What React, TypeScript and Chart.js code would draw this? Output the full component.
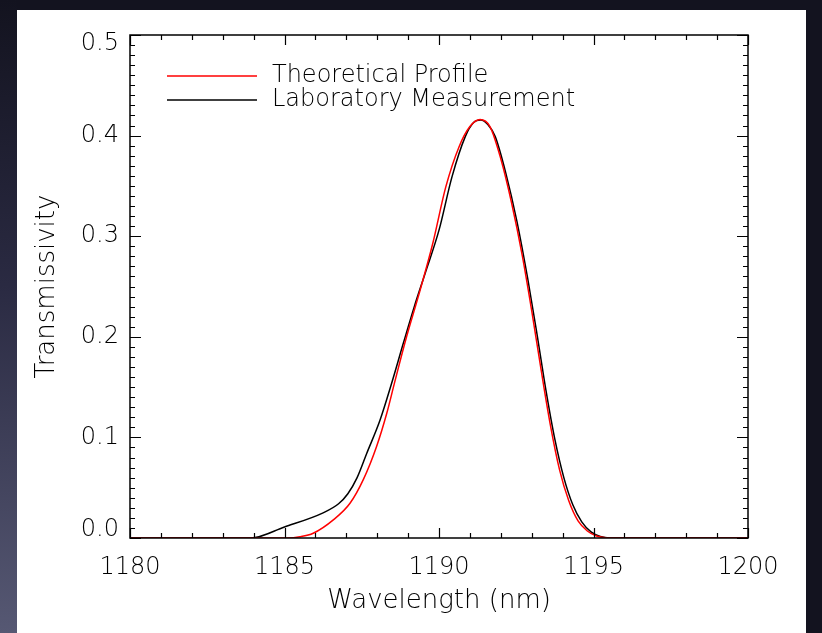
import React, { useEffect, useRef } from 'react';
import { Chart, registerables } from 'chart.js';

Chart.register(...registerables);

const theoWavelength = [1180, 1185.1, 1185.5, 1185.93, 1186.58, 1187.12, 1187.55, 1187.98, 1188.31, 1188.55, 1188.95, 1189.39, 1189.8, 1190.22, 1190.65, 1191.0, 1191.33, 1191.65, 1192.0, 1192.35, 1192.7, 1193.0, 1193.3, 1193.6, 1193.9, 1194.2, 1194.5, 1194.8, 1195.1, 1195.4, 1195.8, 1200];
const theoValues = [0, 0, 0.0012, 0.0047, 0.018, 0.0345, 0.058, 0.091, 0.124, 0.153, 0.2, 0.2465, 0.293, 0.349, 0.389, 0.409, 0.416, 0.409, 0.377, 0.333, 0.28, 0.226, 0.168, 0.113, 0.068, 0.037, 0.017, 0.007, 0.002, 0.0003, 0, 0];

const labWavelength = [1180, 1183.9, 1185, 1186.25, 1186.75, 1187.05, 1187.35, 1187.66, 1188.09, 1188.45, 1188.85, 1189.2, 1189.55, 1190.0, 1190.42, 1190.85, 1191.12, 1191.35, 1191.58, 1191.82, 1192.16, 1192.52, 1192.87, 1193.17, 1193.46, 1193.75, 1194.04, 1194.33, 1194.62, 1194.92, 1195.22, 1195.52, 1200];
const labValues = [0, 0, 0.011, 0.025, 0.034, 0.044, 0.06, 0.084, 0.117, 0.152, 0.194, 0.23, 0.263, 0.306, 0.359, 0.399, 0.413, 0.4155, 0.411, 0.399, 0.363, 0.315, 0.258, 0.203, 0.147, 0.098, 0.06, 0.033, 0.016, 0.006, 0.0015, 0, 0];

const seriesLabels = ['Theoretical Profile', 'Laboratory Measurement'];
const seriesColors = ['#ff0000', '#000000'];

const xMin = 1180;
const xMax = 1200;
const xMajorStep = 5;
const yMin = 0;
const yMax = 0.5;
const yMajorStep = 0.1;

const xTitle = 'Wavelength (nm)';
const yTitle = 'Transmissivity';

const FONT = '"DejaVu Sans", sans-serif';
const FONT_SIZE = 24;
const TITLE_SIZE = 26;
const FONT_WEIGHT = 200;

const framePlugin = {
  id: 'idlFrame',
  afterDraw(chart: any) {
    const ctx = chart.ctx;
    const { left, right, top, bottom } = chart.chartArea;
    const xs = chart.scales.x;
    const ys = chart.scales.y;
    ctx.save();
    ctx.strokeStyle = '#000';
    ctx.lineWidth = 1.5;
    ctx.strokeRect(left, top, right - left, bottom - top);
    ctx.lineWidth = 1.2;
    ctx.beginPath();
    for (let v = xMin; v <= xMax + 1e-9; v += 1) {
      const px = Math.round(xs.getPixelForValue(v)) + 0.5;
      const len = Math.abs((v - xMin) % xMajorStep) < 1e-6 ? 10 : 5;
      ctx.moveTo(px, bottom);
      ctx.lineTo(px, bottom - len);
      ctx.moveTo(px, top);
      ctx.lineTo(px, top + len);
    }
    for (let i = 0; i <= 50; i++) {
      const v = yMin + i * 0.01;
      const py = Math.round(ys.getPixelForValue(v)) + 0.5;
      const len = i % 10 === 0 ? 11 : 5;
      ctx.moveTo(left, py);
      ctx.lineTo(left + len, py);
      ctx.moveTo(right, py);
      ctx.lineTo(right - len, py);
    }
    ctx.stroke();

    // y tick labels, from the y scale's ticks
    ctx.fillStyle = '#000';
    ctx.font = `${FONT_WEIGHT} ${FONT_SIZE}px ${FONT}`;
    ctx.textAlign = 'right';
    ctx.textBaseline = 'middle';
    ys.ticks.forEach((t: any) => {
      let py = ys.getPixelForValue(t.value);
      py = Math.min(Math.max(py, top + 9), bottom - 8);
      ctx.fillText(Number(t.value).toFixed(1), left - 11, py);
    });

    // legend inside plot
    const lx0 = 167;
    const lx1 = 257;
    const ly0 = 76;
    const ldy = 24;
    ctx.textAlign = 'left';
    chart.data.datasets.forEach((ds: any, i: number) => {
      const y = ly0 + i * ldy;
      ctx.strokeStyle = ds.borderColor;
      ctx.lineWidth = 1.5;
      ctx.beginPath();
      ctx.moveTo(lx0, y);
      ctx.lineTo(lx1, y);
      ctx.stroke();
      ctx.fillStyle = '#000';
      ctx.fillText(ds.label, 272, y);
    });
    ctx.restore();
  },
};

export default function App() {
  const ref = useRef<HTMLCanvasElement | null>(null);
  useEffect(() => {
    if (!ref.current) return;
    const chart = new Chart(ref.current, {
      type: 'line',
      data: {
        datasets: [
          {
            label: seriesLabels[0],
            data: theoWavelength.map((x, i) => ({ x, y: theoValues[i] })),
            borderColor: seriesColors[0],
            borderWidth: 1.5,
            pointRadius: 0,
            cubicInterpolationMode: 'monotone',
            fill: false,
          },
          {
            label: seriesLabels[1],
            data: labWavelength.map((x, i) => ({ x, y: labValues[i] })),
            borderColor: seriesColors[1],
            borderWidth: 1.5,
            pointRadius: 0,
            cubicInterpolationMode: 'monotone',
            fill: false,
          },
        ],
      },
      options: {
        animation: false,
        responsive: false,
        devicePixelRatio: 1,
        layout: { padding: { top: 35, right: 74, bottom: 0, left: 0 } },
        plugins: { legend: { display: false }, tooltip: { enabled: false } },
        scales: {
          x: {
            type: 'linear',
            min: xMin,
            max: xMax,
            grid: { display: false, drawTicks: false },
            border: { display: false },
            ticks: {
              stepSize: xMajorStep,
              color: '#000',
              padding: 15,
              maxRotation: 0,
              callback: (v: any) => String(v),
              font: { family: FONT, size: FONT_SIZE, weight: FONT_WEIGHT as any },
            },
            title: {
              display: true,
              text: xTitle,
              color: '#000',
              font: { family: FONT, size: TITLE_SIZE, weight: FONT_WEIGHT as any },
              padding: { top: 0, bottom: 16 },
            },
            afterFit: (s: any) => {
              s.height = 95;
            },
          },
          y: {
            type: 'linear',
            min: yMin,
            max: yMax,
            grid: { display: false, drawTicks: false },
            border: { display: false },
            ticks: { stepSize: yMajorStep, display: false },
            title: {
              display: true,
              text: yTitle,
              color: '#000',
              font: { family: FONT, size: TITLE_SIZE, weight: FONT_WEIGHT as any },
              padding: { top: 32, bottom: 0 },
            },
            afterFit: (s: any) => {
              s.width = 130;
            },
          },
        },
      },
      plugins: [framePlugin],
    } as any);
    return () => chart.destroy();
  }, []);

  return (
    <div style={{ position: 'fixed', left: 0, top: 0, width: 822, height: 633, background: '#13131f', overflow: 'hidden' }}>
      <div style={{ position: 'absolute', left: 0, top: 0, width: 17, height: 633, background: 'linear-gradient(to bottom, #13131f 0%, #2a2a42 45%, #565873 100%)' }} />
      <div style={{ position: 'absolute', left: 17, top: 10, width: 789, height: 623, background: '#ffffff' }} />
      <canvas ref={ref} width={822} height={633} style={{ position: 'absolute', left: 0, top: 0, width: 822, height: 633 }} />
    </div>
  );
}
